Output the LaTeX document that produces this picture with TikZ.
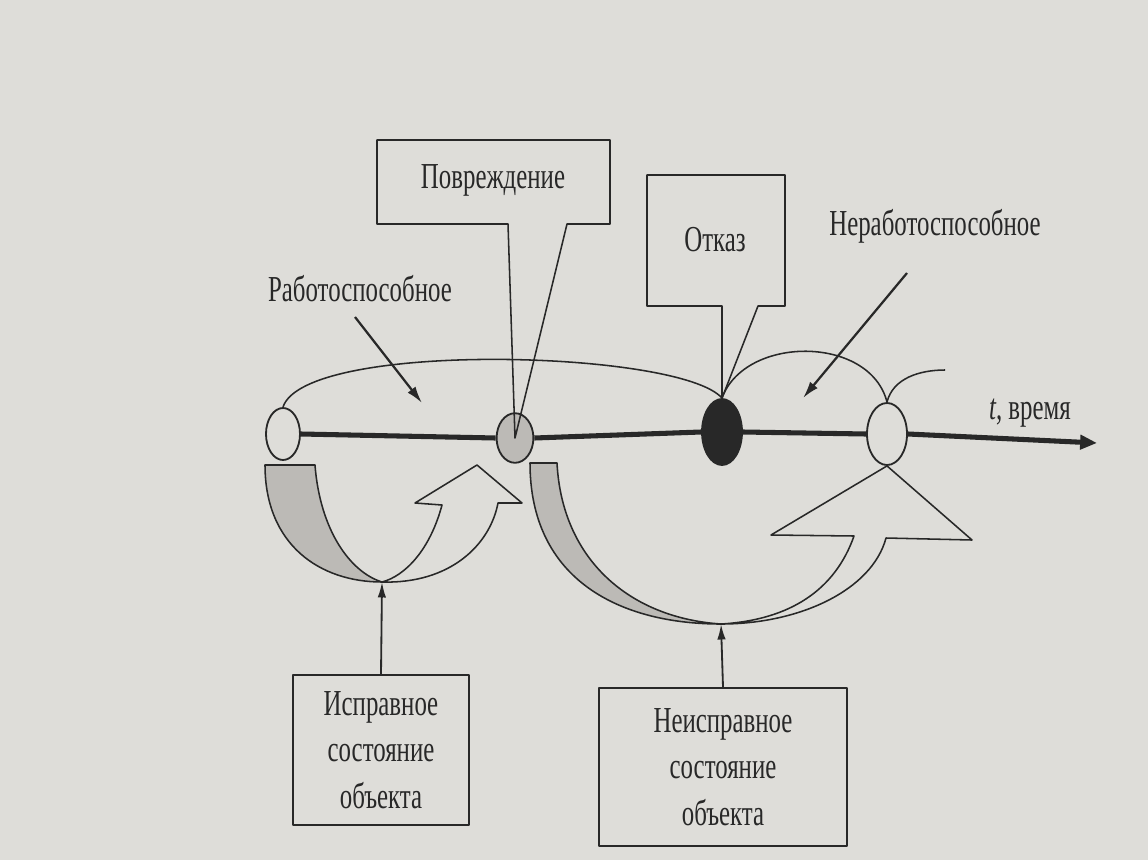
\documentclass[tikz,border=0pt]{standalone}
\usepackage{fontspec}
\setmainfont{Liberation Serif}[FakeStretch=0.68]
\usetikzlibrary{shapes.geometric,arrows.meta}
\definecolor{paper}{RGB}{222,221,217}
\definecolor{ink}{RGB}{40,40,40}
\definecolor{shade}{RGB}{188,186,182}
\begin{document}
\begin{tikzpicture}[x=0.025cm,y=-0.025cm,line join=round,
  thinl/.style={draw=ink,line width=1.1pt},
  axisl/.style={draw=ink,line width=3.6pt},
  ptr/.style={draw=ink,line width=1.6pt,-{Latex[length=12pt,width=7pt]}},
  uparr/.style={draw=ink,line width=1.3pt,-{Latex[length=11pt,width=6pt]}},
  ring/.style={ellipse,draw=ink,line width=1.3pt,inner sep=0pt},
  lbl/.style={font=\fontsize{26}{33}\selectfont,text=ink,inner sep=0pt},
  statebox/.style={draw=ink,line width=1.3pt,align=center,
    font=\fontsize{26}{33}\selectfont,text=ink}]
\fill[paper] (0,0) rectangle (1148,860);
\useasboundingbox (0,0) rectangle (1148,860);

% events on the time axis
\node[ring,fill=paper,minimum width=0.85cm,minimum height=1.3cm] (c0) at (283,434) {};
\node[ring,fill=shade,minimum width=0.92cm,minimum height=1.24cm] (c1) at (515,438) {};
\node[ring,fill=ink,minimum width=1.0cm,minimum height=1.65cm] (c2) at (722,432) {};
\node[ring,fill=paper,minimum width=1.0cm,minimum height=1.55cm] (c3) at (887,434) {};
\coordinate (tend) at (1097,443);

\draw[axisl] (c0.east) -- (c1.west);
\draw[axisl] (c1.east) -- (c2.west);
\draw[axisl] (c2.east) -- (c3.west);
\draw[axisl,-{Triangle[length=12pt,width=10pt]}] (c3.east) -- (tend);
\node[lbl] (tlab) at (1030,413) {\textit{t}, время};

% state arcs
\coordinate (cend) at (945,370);
\draw[thinl] (c0.north) .. controls (305,340) and (680,350) .. (c2.north);
\draw[thinl] (c2.north) .. controls (745,335) and (870,335) .. (c3.north);
\draw[thinl] (c3.north) .. controls (893,378) and (920,370) .. (cend);

% callouts
\draw[thinl] (377,140) -- (610,140) -- (610,224) -- (567,224) -- (c1.center)
  -- (508,224) -- (377,224) -- cycle;
\node[lbl] (dmg) at (493,180) {Повреждение};
\draw[thinl] (647,175) -- (785,175) -- (785,306) -- (758,306) -- (c2.north)
  -- (722,306) -- (647,306) -- cycle;
\node[lbl] (fail) at (715,240) {Отказ};

% state labels with arrows
\node[lbl] (work) at (360,289) {Работоспособное};
\coordinate (wa0) at (355,317);
\coordinate (wa1) at (422,403);
\draw[ptr] (wa0) -- (wa1);
\node[lbl] (nwork) at (935,226) {Неработоспособное};
\coordinate (na0) at (907,273);
\coordinate (na1) at (803,398);
\draw[ptr] (na0) -- (na1);

% lower left transition
\coordinate (J1) at (382,582);
\draw[thinl,fill=shade] (265,465) -- (315,465) .. controls (320,530) and (350,572) .. (J1)
  .. controls (320,582) and (265,545) .. (265,465) -- cycle;
\draw[thinl] (J1) .. controls (450,584) and (490,545) .. (498,503) -- (522,503)
  -- (477,465) -- (415,503) -- (442,505) .. controls (430,550) and (405,576) .. (J1);

% lower right transition
\coordinate (J2) at (721,624);
\draw[thinl,fill=shade] (530,463) -- (557,463) .. controls (562,560) and (630,618) .. (J2)
  .. controls (620,624) and (530,580) .. (530,463) -- cycle;
\draw[thinl] (J2) .. controls (800,624) and (872,590) .. (886,538) -- (972,540)
  -- (c3.south) -- (771,535) -- (854,536) .. controls (835,590) and (790,620) .. (J2);

% state boxes
\node[statebox,minimum width=4.4cm,minimum height=3.75cm] (ok) at (381,750)
  {Исправное\\состояние\\объекта};
\node[statebox,minimum width=6.18cm,minimum height=3.95cm] (bad) at (723,767)
  {Неисправное\\состояние\\объекта};
\draw[uparr] (ok.north) -- (J1);
\draw[uparr] (bad.north) -- (J2);
\end{tikzpicture}
\end{document}
